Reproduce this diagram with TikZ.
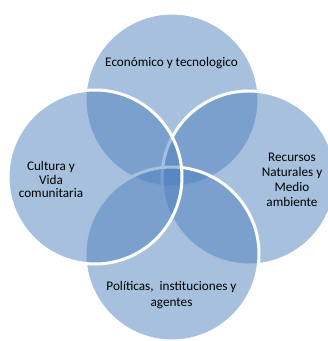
\documentclass[tikz,border=0pt]{standalone}
\usepackage{fontspec}
\setmainfont{Carlito}
\definecolor{accent}{RGB}{79,129,189}
\begin{document}
\begin{tikzpicture}[x=1pt,y=-1pt,
  venn/.style={circle,minimum size=174pt,inner sep=0pt,fill=accent,fill opacity=0.5,draw=white,draw opacity=1,line width=3pt},
  lbl/.style={align=center,text=black,inner sep=0pt}]
\useasboundingbox (0,0) rectangle (328,341);
\node[venn] (top) at (172,100) {};
\node[venn] (right) at (249,178) {};
\node[venn] (bottom) at (172,254) {};
\node[venn] (left) at (95,177) {};
\node[lbl,font=\fontsize{13.2}{14}\selectfont] (ttop) at (171.5,63) {Económico y tecnologico};
\node[lbl,font=\fontsize{13.2}{13.5}\selectfont] (tleft) at (51,179.5) {Cultura y\\Vida\\comunitaria};
\node[lbl,font=\fontsize{13.2}{15}\selectfont] (tright) at (292,179.5) {Recursos\\Naturales y\\Medio\\ambiente};
\node[lbl,font=\fontsize{13.2}{16}\selectfont] (tbottom) at (171.5,295) {Políticas,\ \ instituciones y\\agentes};
\end{tikzpicture}
\end{document}
